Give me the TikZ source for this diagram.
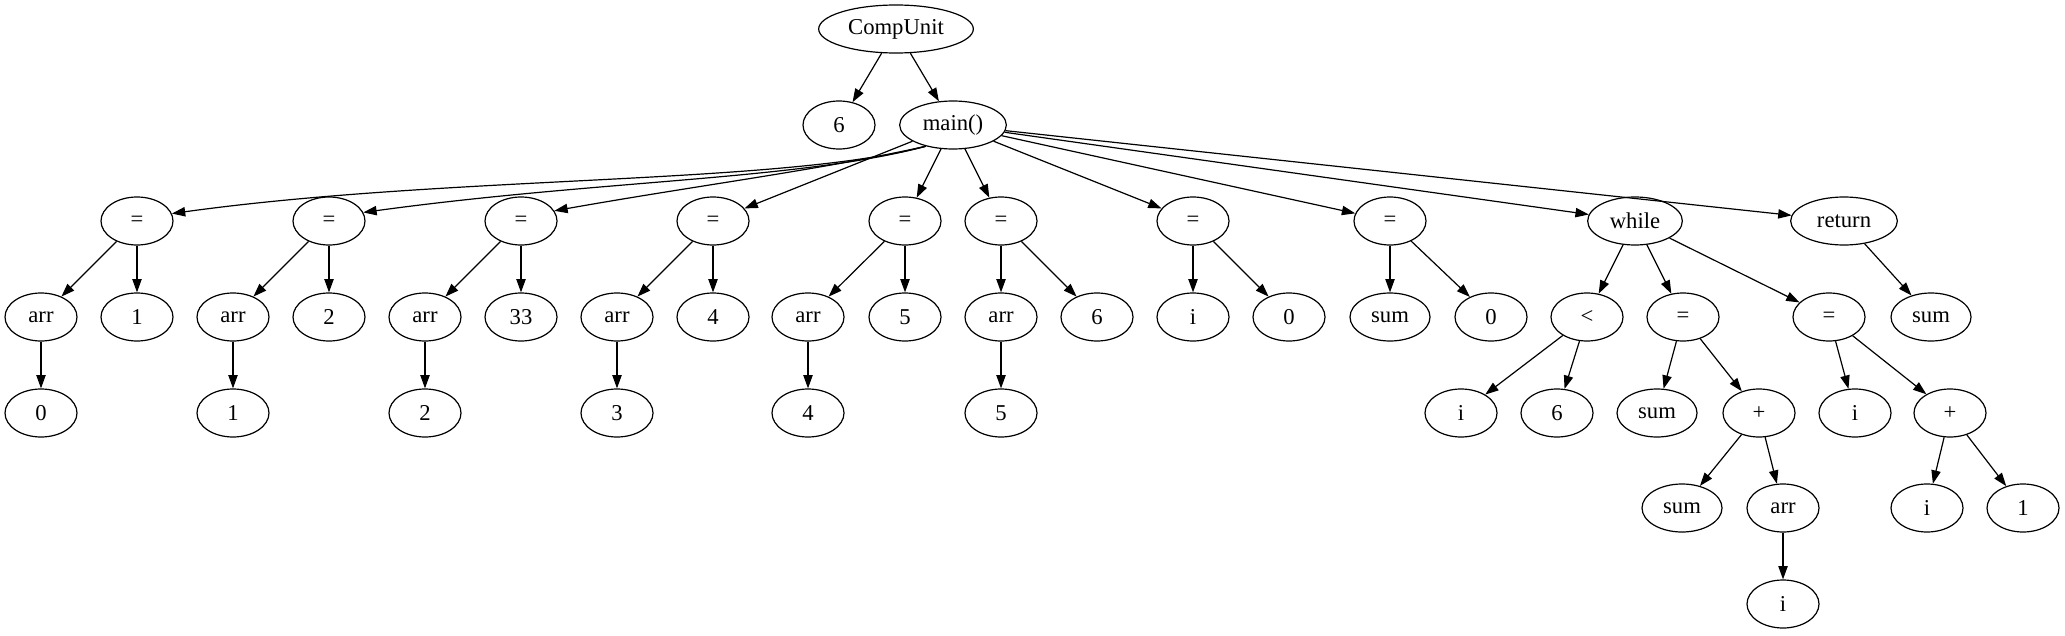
\documentclass[tikz,border=0pt]{standalone}
\usepackage{fontspec}
\setmainfont{Liberation Serif}
\usetikzlibrary{shapes.geometric,arrows.meta}
\begin{document}
\begin{tikzpicture}[x=0.75pt,y=-0.75pt,
  nd/.style={draw,ellipse,line width=0.9pt,minimum width=54pt,minimum height=36pt,inner sep=0pt,font=\fontsize{17}{19}\selectfont},
  edge/.style={line width=0.9pt,-{Triangle[length=10pt,width=7pt]}}]
\useasboundingbox (0,0) rectangle (2065,635);
% level 0-1
\node[nd,minimum width=116pt] (cu) at (896,29) {CompUnit};
\node[nd] (n6) at (839,125) {6};
\node[nd,minimum width=80pt] (main) at (953,125) {main()};
% level 2
\node[nd] (e1) at (137,221) {=};
\node[nd] (e2) at (329,221) {=};
\node[nd] (e3) at (521,221) {=};
\node[nd] (e4) at (713,221) {=};
\node[nd] (e5) at (905,221) {=};
\node[nd] (e6) at (1001,221) {=};
\node[nd] (e7) at (1193,221) {=};
\node[nd] (e8) at (1390,221) {=};
\node[nd,minimum width=71pt] (wh) at (1635,221) {while};
\node[nd,minimum width=80pt] (ret) at (1844,221) {return};
% level 3
\node[nd] (a1) at (41,317) {arr};
\node[nd] (v1) at (137,317) {1};
\node[nd] (a2) at (233,317) {arr};
\node[nd] (v2) at (329,317) {2};
\node[nd] (a3) at (425,317) {arr};
\node[nd] (v3) at (521,317) {33};
\node[nd] (a4) at (617,317) {arr};
\node[nd] (v4) at (713,317) {4};
\node[nd] (a5) at (808,317) {arr};
\node[nd] (v5) at (905,317) {5};
\node[nd] (a6) at (1001,317) {arr};
\node[nd] (v6) at (1097,317) {6};
\node[nd] (i7) at (1193,317) {i};
\node[nd] (z7) at (1289,317) {0};
\node[nd,minimum width=60pt] (s8) at (1390,317) {sum};
\node[nd] (z8) at (1491,317) {0};
\node[nd] (lt) at (1587,317) {<};
\node[nd] (e9) at (1683,317) {=};
\node[nd] (e10) at (1829,317) {=};
\node[nd,minimum width=60pt] (rs) at (1931,317) {sum};
% level 4
\node[nd] (x1) at (41,413) {0};
\node[nd] (x2) at (233,413) {1};
\node[nd] (x3) at (425,413) {2};
\node[nd] (x4) at (617,413) {3};
\node[nd] (x5) at (808,413) {4};
\node[nd] (x6) at (1001,413) {5};
\node[nd] (li) at (1461,413) {i};
\node[nd] (l6) at (1557,413) {6};
\node[nd,minimum width=60pt] (s9) at (1657,413) {sum};
\node[nd] (p9) at (1759,413) {+};
\node[nd] (i10) at (1855,413) {i};
\node[nd] (p10) at (1950,413) {+};
% level 5
\node[nd,minimum width=60pt] (s11) at (1682,508) {sum};
\node[nd] (a11) at (1783,508) {arr};
\node[nd] (i12) at (1927,508) {i};
\node[nd] (o12) at (2023,508) {1};
% level 6
\node[nd] (i13) at (1783,604) {i};
% edges
\draw[edge] (cu) -- (n6);
\draw[edge] (cu) -- (main);
\draw[edge] (main.218) .. controls (780,185) and (450,175) .. (e1.12);
\draw[edge] (main.218) .. controls (800,180) and (600,180) .. (e2.14);
\draw[edge] (main.218) .. controls (820,170) and (700,185) .. (e3.17);
\draw[edge] (main) -- (e4);
\draw[edge] (main) -- (e5);
\draw[edge] (main) -- (e6);
\draw[edge] (main) -- (e7);
\draw[edge] (main) -- (e8);
\draw[edge] (main) -- (wh);
\draw[edge] (main) -- (ret);
\foreach \k in {1,...,6}{
  \draw[edge] (e\k) -- (a\k);
  \draw[edge] (e\k) -- (v\k);
  \draw[edge] (a\k) -- (x\k);
}
\draw[edge] (e7) -- (i7);
\draw[edge] (e7) -- (z7);
\draw[edge] (e8) -- (s8);
\draw[edge] (e8) -- (z8);
\draw[edge] (wh) -- (lt);
\draw[edge] (wh) -- (e9);
\draw[edge] (wh) -- (e10);
\draw[edge] (ret) -- (rs);
\draw[edge] (lt) -- (li);
\draw[edge] (lt) -- (l6);
\draw[edge] (e9) -- (s9);
\draw[edge] (e9) -- (p9);
\draw[edge] (p9) -- (s11);
\draw[edge] (p9) -- (a11);
\draw[edge] (a11) -- (i13);
\draw[edge] (e10) -- (i10);
\draw[edge] (e10) -- (p10);
\draw[edge] (p10) -- (i12);
\draw[edge] (p10) -- (o12);
\end{tikzpicture}
\end{document}
